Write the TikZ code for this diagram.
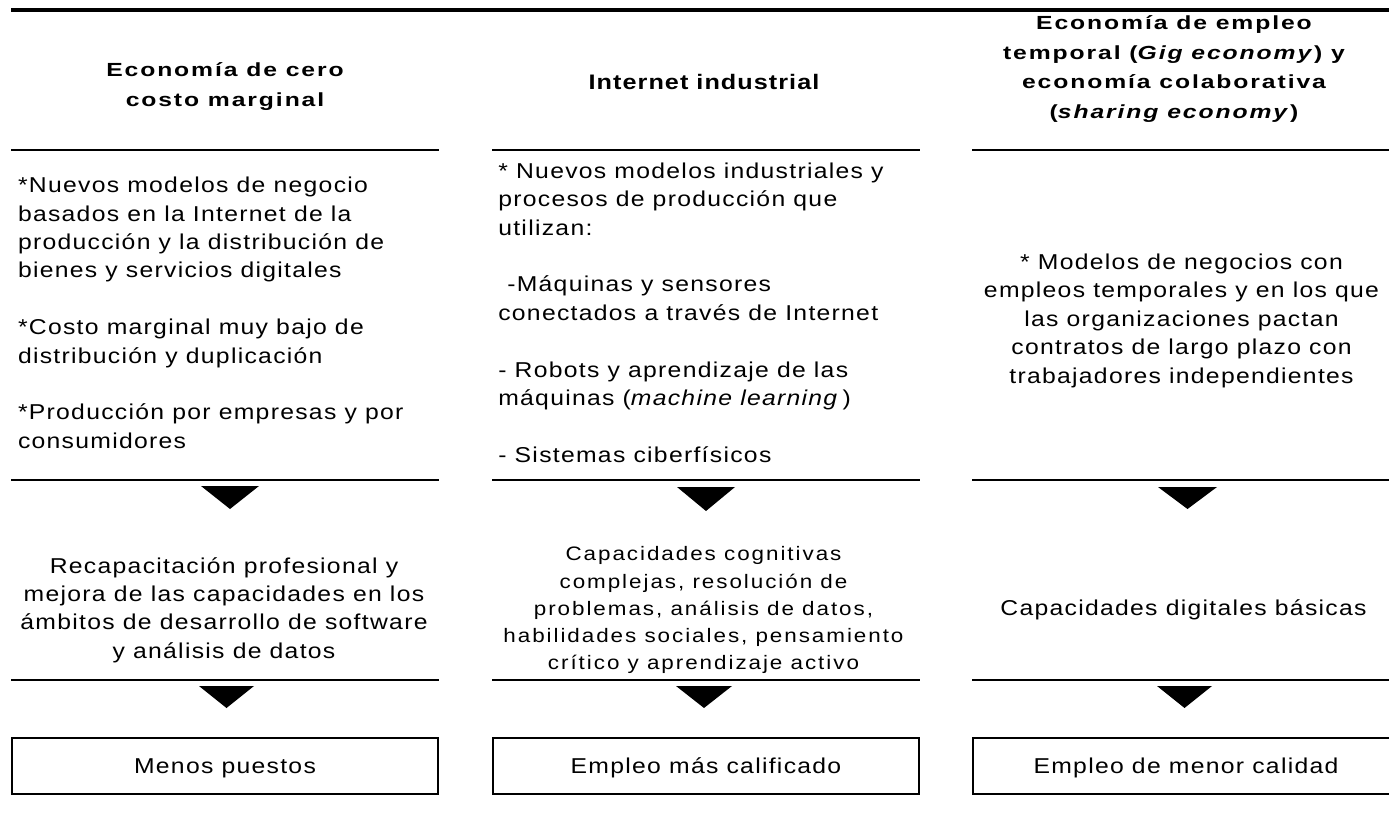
\documentclass[tikz,border=0pt]{standalone}
\usepackage{fontspec}
\setmainfont{Liberation Sans}
\newfontfamily\bodyf[LetterSpace=6,FakeStretch=1.15]{Liberation Sans}
\newfontfamily\midf[LetterSpace=10,FakeStretch=1.15]{Liberation Sans}
\newfontfamily\headf[LetterSpace=10,FakeStretch=1.3]{Liberation Sans}
\newfontfamily\headg[LetterSpace=5,FakeStretch=1.2]{Liberation Sans}
\begin{document}
\begin{tikzpicture}[x=1pt,y=-1pt,
  toprule/.style={line width=3.2pt},
  rule/.style={line width=2.4pt},
  tri/.style={fill=black},
  txt/.style={inner sep=0pt,outer sep=0pt},
  outbox/.style={draw,line width=2.3pt,minimum width=425.7pt,minimum height=55.7pt,
    inner sep=0pt,text height=15.5pt,text depth=0pt,font=\bodyf\fontsize{21.5}{26}\selectfont},
]
\useasboundingbox (0,0) rectangle (1389,821);
\clip (0,0) rectangle (1389,821);

% rules
\draw[toprule] (11,10) -- (1389,10);
\foreach \y in {150,480,680}{
  \draw[rule] (11,\y) -- (439,\y);
  \draw[rule] (492,\y) -- (920,\y);
  \draw[rule] (972,\y) -- (1400,\y);
}

% headers
\node[txt,anchor=base] (h1) at (225,76.5) {\parbox[t]{420pt}{\centering\headf\bfseries\fontsize{19}{29.8}\selectfont
  Economía de cero\\costo marginal}};
\node[txt,anchor=base] (h2) at (704,90) {\parbox[t]{420pt}{\centering\headg\bfseries\fontsize{21}{28}\selectfont
  Internet industrial}};
\node[txt,anchor=base] (h3) at (1174,30) {\parbox[t]{440pt}{\centering\headf\bfseries\fontsize{19}{29.5}\selectfont
  Economía de empleo\\temporal (\textit{Gig economy}) y\\economía colaborativa\\(\textit{sharing economy})}};

% bodies
\node[txt,anchor=base west] (b1) at (18,192.7) {\parbox[t]{440pt}{\raggedright\bodyf\fontsize{21.5}{28.4}\selectfont
  *Nuevos modelos de negocio\\
  basados en la Internet de la\\
  producción y la distribución de\\
  bienes y servicios digitales\\[28.4pt]
  *Costo marginal muy bajo de\\
  distribución y duplicación\\[28.4pt]
  *Producción por empresas y por\\
  consumidores}};
\node[txt,anchor=base west] (b2) at (498.3,178.3) {\parbox[t]{440pt}{\raggedright\bodyf\fontsize{21.5}{28.4}\selectfont
  * Nuevos modelos industriales y\\
  procesos de producción que\\
  utilizan:\\[28.4pt]
  \hspace*{9pt}-Máquinas y sensores\\
  conectados a través de Internet\\[28.4pt]
  - Robots y aprendizaje de las\\
  máquinas (\textit{machine learning}\hspace{4pt})\\[28.4pt]
  - Sistemas ciberfísicos}};
\node[txt,anchor=base] (b3) at (1181.5,269.3) {\parbox[t]{460pt}{\centering\bodyf\fontsize{21.5}{28.5}\selectfont
  * Modelos de negocios con\\
  empleos temporales y en los que\\
  las organizaciones pactan\\
  contratos de largo plazo con\\
  trabajadores independientes}};

% middle row
\node[txt,anchor=base] (m1) at (224,573.3) {\parbox[t]{440pt}{\centering\bodyf\fontsize{21.5}{28.3}\selectfont
  Recapacitación profesional y\\
  mejora de las capacidades en los\\
  ámbitos de desarrollo de software\\
  y análisis de datos}};
\node[txt,anchor=base] (m2) at (703.5,560.7) {\parbox[t]{440pt}{\centering\midf\fontsize{19.5}{27.3}\selectfont
  Capacidades cognitivas\\
  complejas, resolución de\\
  problemas, análisis de datos,\\
  habilidades sociales, pensamiento\\
  crítico y aprendizaje activo}};
\node[txt,anchor=base] (m3) at (1183.5,615) {\parbox[t]{440pt}{\centering\bodyf\fontsize{21.5}{28}\selectfont
  Capacidades digitales básicas}};

% arrowheads
\fill[tri] (201,486) -- (259,486) -- (230,509) -- cycle;
\fill[tri] (677,487) -- (735,487) -- (706,511) -- cycle;
\fill[tri] (1158,487) -- (1217,487) -- (1187.5,509) -- cycle;
\fill[tri] (199,686) -- (254,686) -- (226.5,708) -- cycle;
\fill[tri] (676,686) -- (732,686) -- (704,708) -- cycle;
\fill[tri] (1157,686) -- (1212,686) -- (1184.5,708) -- cycle;

% outcome boxes
\node[outbox] (o1) at (225,766) {Menos puestos};
\node[outbox] (o2) at (706,766) {Empleo más calificado};
\node[outbox] (o3) at (1186,766) {Empleo de menor calidad};
\end{tikzpicture}
\end{document}
